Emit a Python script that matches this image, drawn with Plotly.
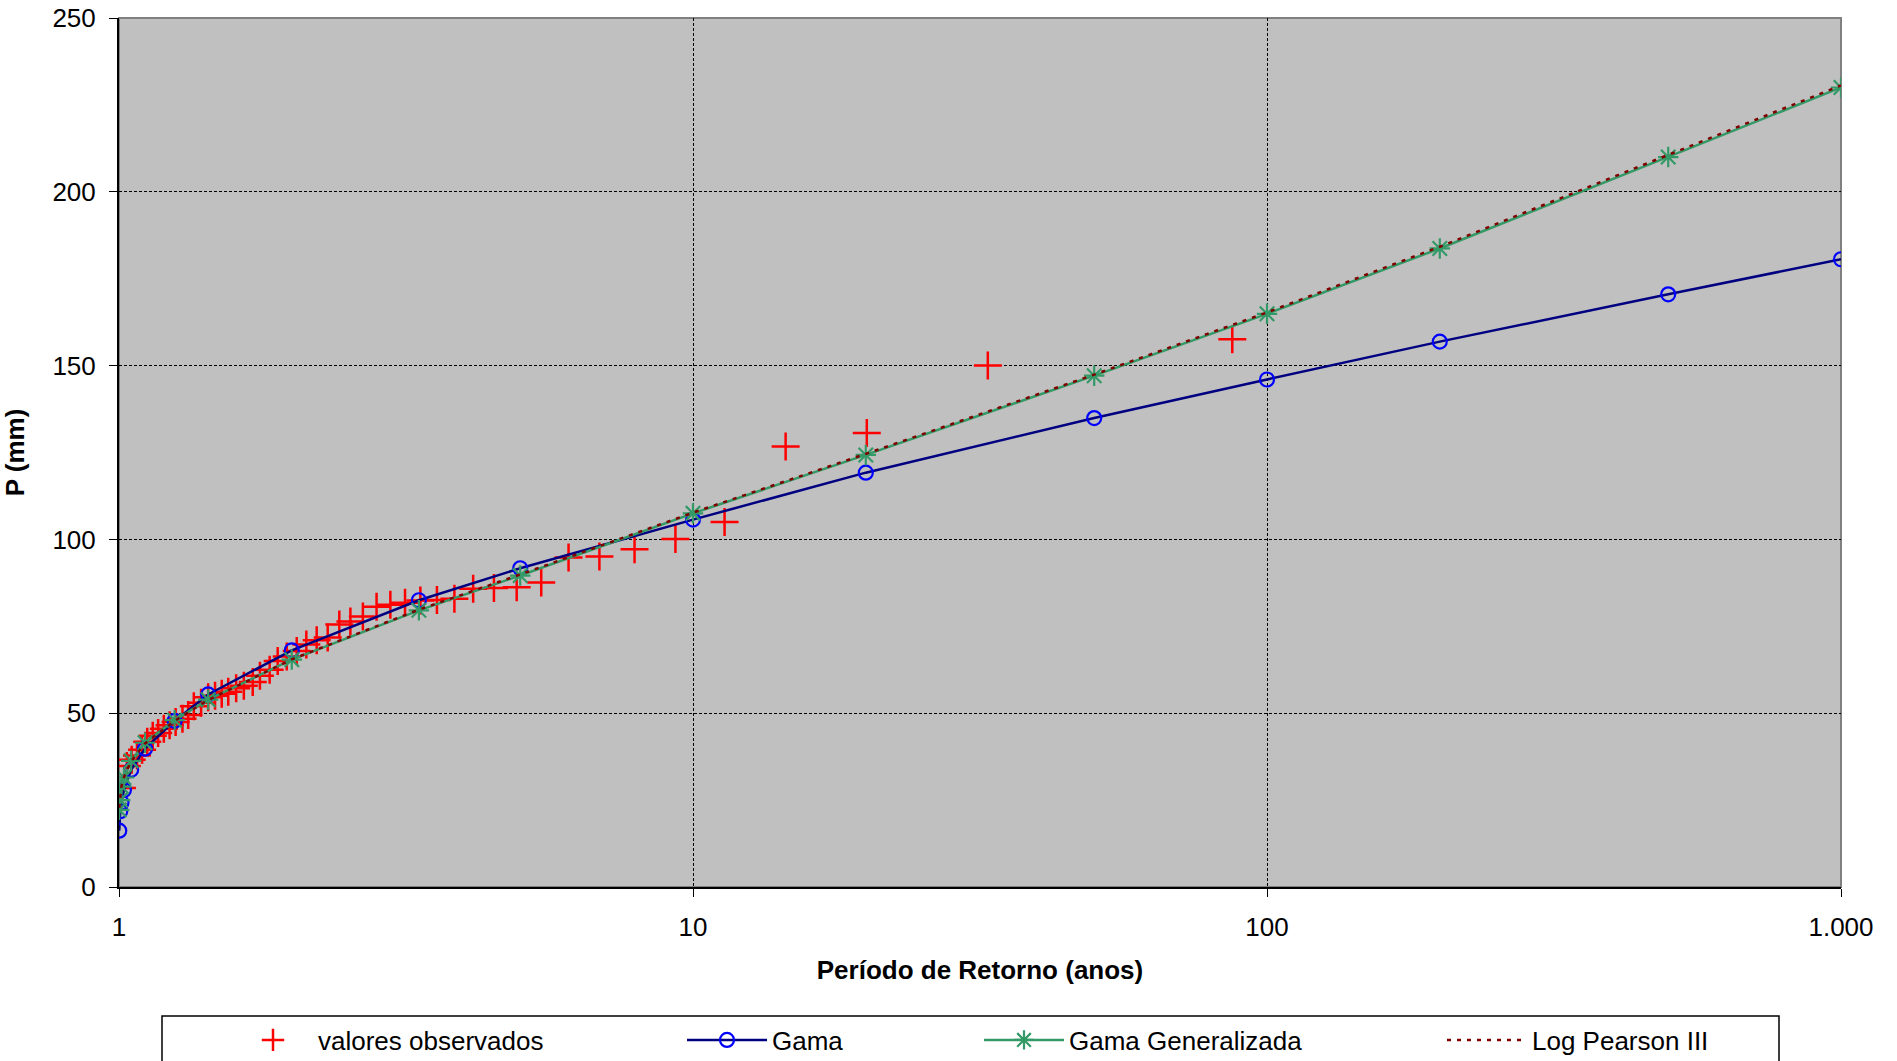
import plotly.graph_objects as go

# ---- data ----
t_obs = [87.0, 32.63, 20.08, 14.50, 11.35, 9.32, 7.91, 6.87, 6.07, 5.44,
         4.93, 4.50, 4.14, 3.84, 3.58, 3.35, 3.15, 2.97, 2.81, 2.66,
         2.53, 2.42, 2.31, 2.21, 2.12, 2.04, 1.96, 1.89, 1.83, 1.76,
         1.71, 1.65, 1.60, 1.55, 1.51, 1.47, 1.43, 1.39, 1.35, 1.32,
         1.29, 1.255, 1.225, 1.197, 1.170, 1.145, 1.120, 1.097, 1.075, 1.052,
         1.032, 1.012]
p_obs = [157.6, 150.0, 130.6, 126.7, 105.0, 100.1, 97.2, 95.1, 94.8, 87.6,
         86.2, 86.0, 85.8, 82.9, 82.6, 82.4, 81.8, 81.2, 80.6, 77.8,
         76.4, 75.5, 71.8, 71.0, 69.8, 67.9, 66.3, 65.0, 62.5, 60.8,
         59.0, 57.9, 57.2, 56.2, 55.6, 55.0, 54.6, 53.0, 52.0, 49.5,
         48.4, 47.5, 46.5, 45.5, 44.3, 43.5, 41.8, 39.5, 37.8, 36.6,
         34.8, 28.5]

t_fit = [1.001, 1.005, 1.01, 1.02, 1.05, 1.11, 1.25, 1.43, 2, 3.33,
         5, 10, 20, 50, 100, 200, 500, 1000]
p_gama = [16.2, 21.8, 24.3, 27.9, 33.7, 39.8, 47.8, 55.4, 68.1, 82.5,
          91.7, 105.7, 119.2, 134.9, 146.0, 156.9, 170.5, 180.6]
p_gama_gen = [22.2, 25.0, 28.9, 31.5, 36.3, 41.5, 48.0, 53.9, 65.4, 79.6,
              89.6, 107.5, 124.3, 147.1, 164.9, 183.7, 210.0, 230.0]
p_lp3 = [22.8, 25.4, 29.0, 31.6, 36.2, 41.3, 47.8, 53.8, 65.5, 79.8,
         89.9, 107.7, 124.6, 147.4, 165.3, 184.2, 210.6, 230.6]

x_tickvals = [1, 10, 100, 1000]
x_ticktext = ["1", "10", "100", "1.000"]

names = ["valores observados", "Gama", "Gama Generalizada", "Log Pearson III"]

FONT = "Arial, Liberation Sans, sans-serif"
W, H = 1897, 1061
L, R, T, B = 119, 56, 18, 174
pw, ph = W - L - R, H - T - B

def px_x(p):
    return (p - L) / pw

def px_y(p):
    return (H - B - p) / ph

fig = go.Figure()

fig.add_trace(go.Scatter(
    x=t_obs, y=p_obs, mode="markers", name=names[0], legend="legend",
    showlegend=True,
    marker=dict(symbol="cross-thin-open", size=20, color="#FF0000",
                line=dict(color="#FF0000", width=2.5)),
))
fig.add_trace(go.Scatter(
    x=t_fit, y=p_gama, mode="lines+markers", name=names[1], legend="legend2",
    line=dict(color="#000080", width=2.5),
    marker=dict(symbol="circle-open", size=14, color="#0000FF",
                line=dict(color="#0000FF", width=2.2)),
))
fig.add_trace(go.Scatter(
    x=t_fit, y=p_gama_gen, mode="lines+markers", name=names[2], legend="legend3",
    line=dict(color="#339966", width=2.5),
    marker=dict(symbol="asterisk-open", size=17, color="#339966",
                line=dict(color="#339966", width=2.2)),
))
fig.add_trace(go.Scatter(
    x=t_fit, y=p_lp3, mode="lines", name=names[3], legend="legend4",
    line=dict(color="#800000", width=2.5, dash="4px,6px"),
))

leg_y = px_y(1040)
text_starts = [318, 772, 1069, 1532]
common_leg = dict(orientation="h", yanchor="middle", xanchor="left",
                  y=leg_y, font=dict(family=FONT, size=26, color="#000000"),
                  bgcolor="rgba(0,0,0,0)", borderwidth=0, itemwidth=80,
                  visible=True)
legends = {}
for i, key in enumerate(["legend", "legend2", "legend3", "legend4"]):
    d = dict(common_leg)
    d["x"] = px_x(text_starts[i] - 90)
    legends[key] = d

grid = dict(gridcolor="#000000", gridwidth=1, griddash="3px,2px")

fig.update_layout(
    width=W, height=H,
    showlegend=True,
    margin=dict(l=L, r=R, t=T, b=B, autoexpand=False),
    paper_bgcolor="#FFFFFF", plot_bgcolor="#C0C0C0",
    font=dict(family=FONT, size=26, color="#000000"),
    xaxis=dict(
        type="log", range=[0, 3], tickmode="array",
        tickvals=x_tickvals, ticktext=x_ticktext,
        ticks="outside", ticklen=8, tickcolor="#000000",
        showline=True, linecolor="#000000", linewidth=2,
        ticklabelstandoff=8,
        title=dict(text="<b>Período de Retorno (anos)</b>",
                   font=dict(family=FONT, size=26), standoff=20),
        zeroline=False, **grid,
    ),
    yaxis=dict(
        range=[0, 250], dtick=50, tick0=0,
        ticks="outside", ticklen=8, tickcolor="#000000",
        showline=True, linecolor="#000000", linewidth=2,
        ticklabelstandoff=8,
        title=dict(text="<b>P (mm)</b>", font=dict(family=FONT, size=26),
                   standoff=20),
        zeroline=False, **grid,
    ),
    **legends,
)

# plot-area border (top and right in grey)
fig.add_shape(type="rect", xref="paper", yref="paper", x0=0, x1=1, y0=0, y1=1,
              line=dict(color="#808080", width=2), layer="below")
# legend frame
fig.add_shape(type="rect", xref="paper", yref="paper",
              x0=px_x(162), x1=px_x(1779), y0=px_y(1120), y1=px_y(1016),
              line=dict(color="#000000", width=1.5), fillcolor="rgba(0,0,0,0)")

fig.write_html("out.html")
